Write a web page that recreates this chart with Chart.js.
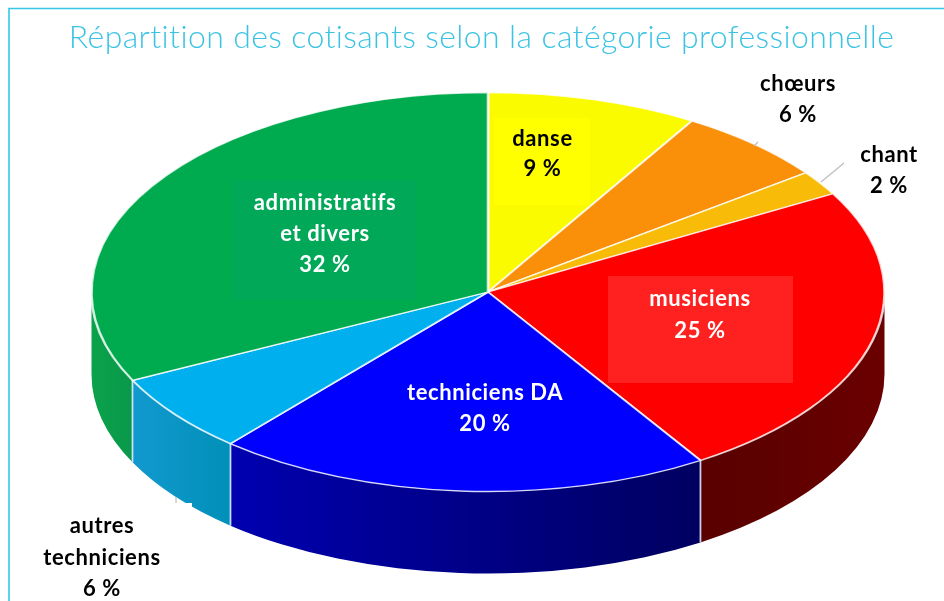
<!DOCTYPE html>
<html lang="fr"><head><meta charset="utf-8">
<style>html,body{margin:0;padding:0;background:#fff}canvas{display:block}</style>
<script src="https://cdn.jsdelivr.net/npm/chart.js@4"></script></head>
<body><canvas id="c" width="944" height="601"></canvas>
<script>
const titleText = 'Répartition des cotisants selon la catégorie professionnelle';
const categories = ['danse','chœurs','chant','musiciens','techniciens DA','autres techniciens','administratifs et divers'];
const printedPercent = [9,6,2,25,20,6,32];
const drawnShare = [8.6,6.2,2,24.2,20.25,6.45,32.3];
const topColors = ['#fbfb00','#fa8f0a','#f8bc08','#ff0000','#0000ff','#00b0ee','#00ab50'];
const wallStart = ['#cc0','#c70','#c90','#6a0000','#0000b0','#1299cf','#0ba24a'];
const wallEnd = ['#cc0','#c70','#c90','#580000','#000060','#0090b8','#08984a'];
const labelLines = [['danse'],['chœurs'],['chant'],['musiciens'],['techniciens DA'],['autres','techniciens'],['administratifs','et divers']];
const labelColors = ['#000','#000','#000','#fff','#fff','#000','#fff'];
const labelAnchor = [[542.5,139,30],[798,84,31],[889,155,31],[700,299,32],[485,393,31],[102,526,31.5],[325,203,31]];
const labelPatches = [[494,118,96,87,'#ffff00'],[608,276,185,107,'#ff2020'],[232,180,185,120,'#00a858'],[10,503,182,98,'#ffffff']];
const leaders = [[754,146,758,142],[821,182,844,163],[176,497,176,503]];
const geom = {cx:488, cy:292, rx:396.5, ry:199.5, depth:82};
const font = 'Lato, "Open Sans", sans-serif';

const pie3d = {
  id:'pie3d',
  beforeDraw(chart){
    const c = chart.ctx;
    c.letterSpacing='0.38px';
    c.save();
    c.strokeStyle='#35c8e6'; c.lineWidth=1.6;
    c.beginPath(); c.moveTo(9,601); c.lineTo(9,8.5); c.lineTo(944,8.5); c.stroke();
    c.restore();
  },
  beforeDatasetsDraw(chart){
    const c = chart.ctx, {cx,cy,rx,ry,depth} = geom;
    const arcs = chart.getDatasetMeta(0).data;
    arcs.forEach((arc,i)=>{
      const {startAngle,endAngle} = arc.getProps(['startAngle','endAngle'],true);
      const a = Math.max(startAngle,0), b = Math.min(endAngle,Math.PI);
      if (b<=a) return;
      const x0 = cx+rx*Math.cos(a), x1 = cx+rx*Math.cos(b);
      const g = c.createLinearGradient(Math.min(x0,x1),0,Math.max(x0,x1),0);
      g.addColorStop(0, i===3 ? wallEnd[i] : wallStart[i]);
      g.addColorStop(1, i===3 ? wallStart[i] : wallEnd[i]);
      c.beginPath();
      c.ellipse(cx,cy,rx,ry,0,a,b);
      c.ellipse(cx,cy+depth,rx,ry,0,b,a,true);
      c.closePath(); c.fillStyle=g; c.fill();
    });
    arcs.forEach(arc=>{
      const {startAngle} = arc.getProps(['startAngle'],true);
      if (startAngle<=0||startAngle>=Math.PI) return;
      const x=cx+rx*Math.cos(startAngle), y=cy+ry*Math.sin(startAngle);
      c.beginPath(); c.moveTo(x,y); c.lineTo(x,y+depth);
      c.strokeStyle='rgba(225,235,255,.85)'; c.lineWidth=1.8; c.stroke();
    });
    const {x,y,outerRadius} = arcs[0].getProps(['x','y','outerRadius'],true);
    c.save();
    c.translate(cx,cy); c.scale(rx/outerRadius,ry/outerRadius); c.translate(-x,-y);
  },
  afterDatasetsDraw(chart){
    const c = chart.ctx;
    c.restore();
    labelPatches.forEach(p=>{c.fillStyle=p[4]; c.fillRect(p[0],p[1],p[2],p[3]);});
    c.save();
    c.strokeStyle='#bdbdbd'; c.lineWidth=1.2;
    leaders.forEach(l=>{c.beginPath();c.moveTo(l[0],l[1]);c.lineTo(l[2],l[3]);c.stroke();});
    c.letterSpacing='0.6px';
    c.font='bold 22px '+font; c.textAlign='center'; c.textBaseline='middle';
    labelLines.forEach((lines,i)=>{
      const [x,y,step]=labelAnchor[i];
      c.fillStyle=labelColors[i];
      lines.concat(printedPercent[i]+' %').forEach((t,k)=>c.fillText(t,x,y+k*step));
    });
    c.restore();
  }
};

new Chart(document.getElementById('c'),{
  type:'pie',
  data:{labels:categories,datasets:[{data:drawnShare,backgroundColor:topColors,borderColor:'rgba(255,255,255,.8)',borderWidth:1.3}]},
  options:{
    responsive:false,animation:false,
    layout:{padding:{left:19,right:0,top:0,bottom:109}},
    plugins:{legend:{display:false},tooltip:{enabled:false},
      title:{display:true,text:titleText,color:'#3cc3e4',font:{family:font,size:32,weight:'300'},padding:{top:18,bottom:37}}}
  },
  plugins:[pie3d]
});
</script></body></html>
